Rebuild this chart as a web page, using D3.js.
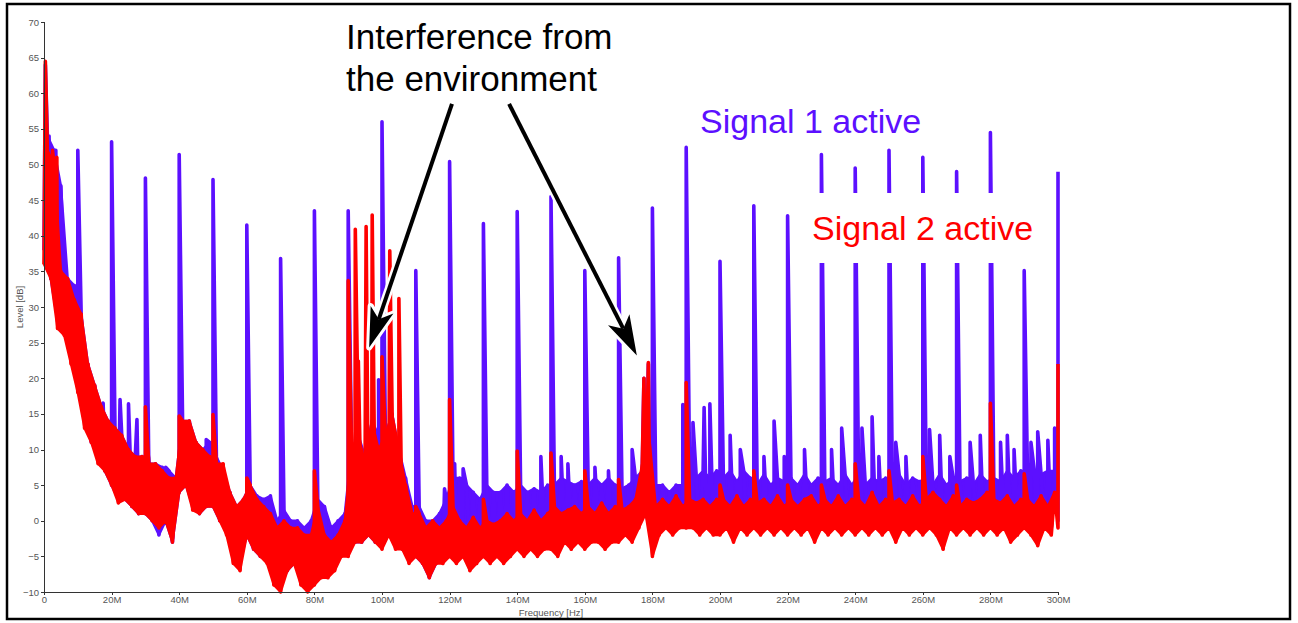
<!DOCTYPE html>
<html>
<head>
<meta charset="utf-8">
<script src="https://cdn.jsdelivr.net/npm/d3@7"></script>
<style>
body { margin: 0; background: #fff; }
svg { display: block; font-family: "Liberation Sans", Arial, Helvetica, sans-serif; }
.axis path, .axis line { stroke: #333; shape-rendering: crispEdges; }
.axis text { fill: #555; font-size: 9.5px; font-family: "Liberation Sans", Arial, sans-serif; }
</style>
</head>
<body>
<div id="chart"></div>
<script>
// tick labels
var xTicks = [0, 20, 40, 60, 80, 100, 120, 140, 160, 180, 200, 220, 240, 260, 280, 300]; // MHz
var yTicks = [-10, -5, 0, 5, 10, 15, 20, 25, 30, 35, 40, 45, 50, 55, 60, 65, 70];

// noise floor, one bin every 2 MHz: "lo" sits on the bin, "hi" 1 MHz after it
var binStep = 2;

// Signal 2 (red)
var redLo = [
    36, 34, 27, 26, 22, 18, 13, 11, 8, 7,
    5, 2.5, 3, 2, 1, 1, 0, -1, 0, -3,
    4, 5, 1.5, 1, 2, 2, 0, -2, -6, -7,
    -2, -4, -5, -6, -9, -10, -7, -6, -9, -10,
    -9, -8, -8, -7, -5, -5, -3, -3, -2, -3,
    -4, -2, -4, -4, -6, -5, -6, -8, -6, -6,
    -5, -6, -5, -7, -6, -5, -6, -5, -6, -5,
    -4, -5, -4, -5, -4, -4, -5, -3, -4, -3,
    -4, -3, -3, -4, -3, -3, -2, -3, -1, 1,
    -5, -2, -1, -2, -1, -1, -1, -2, -1, -2,
    -2, -1, -3, -1, -2, -1, -2, -1, -2, -1,
    -2, -1, -2, -1, -3, -1, -2, -1, -2, -1,
    -2, -1, -2, -1, -2, -1, -3, -1, -2, -1,
    -2, -1, -2, -4, -1, -2, -1, -2, -1, -2,
    -1, -2, -1, -3, -2, -1, -2, -3.5, -1, -2,
    -1];
var redHi = [
    52, 50, 35, 34, 31, 29, 22, 19, 16, 14,
    13, 12, 10, 9, 9, 8, 8, 7, 6, 6,
    14, 14, 11, 10, 9, 8, 8, 4, 2, 3,
    5, 3, 2, 1, -1, 0, -1, -1, -2, -2,
    2, -2, -3, -2, 0, 10, 12, 8, 14, 10,
    12, 15, 10, 5, 1, 1, -1, 0, -1, 0,
    2, 0, -1, 0.5, -1, 0, -0.5, 0, 1, 0,
    1, 0, 1.5, 0, 1, 2, 1, 1.5, 2, 1,
    2, 1, 2.5, 1, 2, 1.5, 2, 3, 8, 12,
    2, 3, 2, 3.5, 2, 3, 2.5, 3, 2, 3,
    3, 2, 3.5, 2, 3, 2.5, 3, 2, 3.5, 2,
    3, 2, 3, 3.5, 2, 3, 2, 3.5, 2, 3,
    3, 2, 4, 2, 3, 2.5, 3, 2, 3.5, 2,
    3, 4, 3, 2, 3.5, 2, 3, 2.5, 3, 4,
    3, 2.5, 3.5, 2, 3, 3, 2, 3.5, 2, 4];
var redSpikes = [ // [MHz, dB]
    [0.4, 64.5], [2.5, 52], [3.8, 51], [30, 16], [40, 14.7], [50, 14.9], [60, 6], [80, 7],
    [90, 33.7], [92.1, 40.9], [93, 22.4], [95.3, 41.3], [97.1, 42.9], [100, 23], [102.3, 37.9], [105, 31.2],
    [110, 2], [120, 17], [130, 3], [140, 9.8], [150, 9.5], [160, 7], [170, 5.8], [177.5, 20], [178.8, 22.2],
    [190, 19.4], [200, 5], [210, 7], [220, 5], [230, 5], [240, 8], [250, 7], [260, 9], [270, 5],
    [280, 16.5], [290, 6.6], [300, 22]];

// Signal 1 (blue)
var blueLo = [
    38, 34, 28, 27, 24, 19, 14, 11, 9, 7,
    5, 3, 3, 2, 1, 1, 0, -2, 0, -3,
    4, 5, 2, 1, 2, 2, 0, -1, -5, -6,
    -2, -4, -5, -5, -8, -9, -7, -6, -8, -9,
    -8, -7, -7, -6, -4, -4, -3, -3, -2, -3,
    -3, -2, -3, -4, -5, -5, -6, -8, -6, -5,
    -4, -4, -4, -4, -4, -3, -4, -3, -3, -3,
    -3, -3, -2, -2, -2, -2, -2, -2, -2, -2,
    -2, -2, -1, -2, -1, -1, -1, -1, 0, 1,
    -3, -1, 0, -1, 0, 0, 0, -1, 0, -1,
    -1, 0, -1, 0, -1, 0, -1, 0, -1, 0,
    -1, 0, -1, 0, -1, 0, -1, 0, -1, 0,
    -1, 0, -1, 0, -1, 0, -1, 0, -1, 0,
    -1, 0, -1, -2, 0, -1, 0, -1, 0, -1,
    0, -1, 0, -1, 0, 0, -1, -2, 0, -1,
    0];
var blueHi = [
    54, 52, 47, 34, 33, 29, 22, 19, 16, 14,
    13, 12, 10, 9, 9, 8, 8, 7.5, 7, 6,
    14, 14, 11, 10, 11, 9, 7, 4, 2, 3,
    5, 3.5, 3, 3.5, 0, 1.5, 0, 0, -1, 0,
    3, 2, -1, 0, 1, 10, 12, 9, 14, 12,
    12, 15, 10, 6, 2, 2, 0, 0, 1, 3,
    6, 6, 5, 4, 3, 5, 4, 4, 5, 4,
    5, 4, 4.5, 4, 5, 5, 6, 5.5, 5, 5.5,
    5, 6, 5, 6, 5, 4.5, 5, 6, 7, 10,
    5, 5, 4, 5, 5, 7, 6, 7, 6, 7,
    6, 7, 5.5, 7, 6, 5, 6.5, 5, 6, 5.5,
    6, 5, 6.5, 5, 6, 5.5, 6, 5, 6.5, 5,
    6.5, 5, 6, 5.5, 6, 5, 6.5, 5, 6, 5.5,
    6, 5, 6.5, 5, 6, 5.5, 6, 5, 6.5, 5.5,
    6, 5.5, 7, 6, 7, 6, 7, 6.5, 7, 7];
var blueSpikes = [ // [MHz, dB]
    [0.4, 64], [1.5, 54], [3.5, 52], [10, 52], [15.5, 16.5], [17.5, 16.5], [20, 53.2], [22.5, 17],
    [25, 16.4], [27.5, 14.2], [30, 48.1], [31, 9], [36, 7.5], [40, 51.4], [44, 10.4], [48, 11.4],
    [50, 47.9], [60, 41.5], [70, 36.8], [80, 43.5], [90, 43.5], [99, 19.8], [100, 56], [110, 35.1],
    [118.5, 4.5], [120, 50.4], [121.5, 8], [124, 7.3], [130, 41.7], [140, 43.4], [147, 9],
    [150, 45.5], [153, 9], [155, 8], [160, 35.1], [163, 7.5], [167, 7], [170, 36.9], [174, 10],
    [177.5, 20], [178.8, 22], [180, 43.9], [189, 16.3], [190, 52.4], [192, 13.8], [195.3, 15.9],
    [197, 16.4], [200, 36.4], [203, 12], [206, 10], [210, 44.2], [213, 9], [216, 14], [219, 9],
    [220, 42.8], [225, 10], [230, 51.4], [233, 10], [236, 13], [240, 49.5], [242, 13], [245, 14.6],
    [247, 9], [250, 52], [252, 11], [255, 9], [260, 51], [262, 12.8], [265, 12], [268, 9],
    [270, 49], [274, 11], [277, 12], [280, 54.5], [283, 11], [285, 12], [287, 10], [290, 35.1],
    [292, 11], [294, 12.5], [297, 11.3], [299, 13], [300, 49]];

// annotation arrows, tail -> tip in data units [MHz, dB]
var arrows = [
    [[120.7, 58.5], [96.2, 24.3]],
    [[137.6, 58.5], [175.4, 23.2]]];

var blue = "#5c10ff", red = "#ff0000";

// 1. svg + frame
var W = 1298, H = 623;
var svg = d3.select("#chart").append("svg")
    .attr("width", W)
    .attr("height", H);

svg.append("rect")
    .attr("x", 7).attr("y", 4)
    .attr("width", 1283).attr("height", 615)
    .attr("fill", "#fff")
    .attr("stroke", "#000")
    .attr("stroke-width", 2.5);

// 2. scales
var x = d3.scaleLinear().domain([0, 300]).range([44, 1058]);
var y = d3.scaleLinear().domain([-10, 70]).range([592, 22]);

// 3. noise band (lo..hi) and trace with the spikes
function buildBins(lo, hi) {
    return hi.map(function (h, i) { return { f: i * binStep, lo: lo[i], hi: h }; });
}

function buildTrace(lo, hi, spikes) {
    var pts = [];
    lo.forEach(function (v, i) {
        pts.push({ f: i * binStep, v: v, k: 0 });
        if (hi[i] != null) pts.push({ f: i * binStep + binStep / 2, v: hi[i], k: 0 });
    });
    spikes.forEach(function (s) { pts.push({ f: s[0], v: s[1], k: 1 }); });
    pts.sort(function (a, b) { return a.f - b.f || a.k - b.k; });
    return pts;
}

var band = d3.area()
    .x0(function (d) { return x(d.f); })
    .y0(function (d) { return y(d.lo); })
    .x1(function (d) { return x(d.f + binStep / 2); })
    .y1(function (d) { return y(d.hi); });

var line = d3.line()
    .x(function (d) { return x(d.f); })
    .y(function (d) { return y(d.v); });

function drawSeries(lo, hi, spikes, color) {
    svg.append("path")
        .datum(buildBins(lo, hi))
        .attr("d", band)
        .attr("fill", color)
        .attr("stroke", color)
        .attr("stroke-width", 2.5)
        .attr("stroke-linejoin", "round");

    svg.append("path")
        .datum(buildTrace(lo, hi, spikes))
        .attr("d", line)
        .attr("fill", "none")
        .attr("stroke", color)
        .attr("stroke-width", 3.6)
        .attr("stroke-linejoin", "round");
}

drawSeries(blueLo, blueHi, blueSpikes, blue);
drawSeries(redLo, redHi, redSpikes, red);

// 4. axes
svg.append("g")
    .attr("class", "axis")
    .attr("transform", "translate(0," + y(-10) + ")")
    .call(d3.axisBottom(x).tickValues(xTicks).tickSize(3).tickSizeOuter(3).tickPadding(1)
        .tickFormat(function (d) { return d === 0 ? "0" : d + "M"; }));

svg.append("g")
    .attr("class", "axis")
    .attr("transform", "translate(" + x(0) + ",0)")
    .call(d3.axisLeft(y).tickValues(yTicks).tickSize(3).tickSizeOuter(3).tickPadding(2));

svg.selectAll(".axis .tick text").attr("fill", "#555");

svg.append("text")
    .attr("x", 551).attr("y", 616)
    .attr("text-anchor", "middle")
    .attr("font-size", 9.5)
    .attr("fill", "#555")
    .text("Frequency [Hz]");

svg.append("text")
    .attr("transform", "translate(23," + ((y(70) + y(-10)) / 2) + ") rotate(-90)")
    .attr("text-anchor", "middle")
    .attr("font-size", 9.5)
    .attr("fill", "#555")
    .text("Level [dB]");

// 5. labels with white backing
svg.append("rect")
    .attr("x", 806).attr("y", 193)
    .attr("width", 240).attr("height", 70)
    .attr("fill", "#fff");

svg.append("text")
    .attr("x", 700).attr("y", 133)
    .attr("font-size", 34)
    .attr("fill", blue)
    .text("Signal 1 active");

svg.append("text")
    .attr("x", 812).attr("y", 240)
    .attr("font-size", 34)
    .attr("fill", red)
    .text("Signal 2 active");

svg.append("text")
    .attr("x", 346).attr("y", 49)
    .attr("font-size", 35)
    .attr("fill", "#000")
    .text("Interference from");

svg.append("text")
    .attr("x", 346).attr("y", 91)
    .attr("font-size", 35)
    .attr("fill", "#000")
    .text("the environment");

// 6. arrows
arrows.forEach(function (a) {
    var x0 = x(a[0][0]), y0 = y(a[0][1]), x1 = x(a[1][0]), y1 = y(a[1][1]);
    var ang = Math.atan2(y1 - y0, x1 - x0);
    var len = 40, half = 12, notch = 30;
    function pt(back, side) {
        return [x1 - back * Math.cos(ang) - side * Math.sin(ang),
                y1 - back * Math.sin(ang) + side * Math.cos(ang)];
    }
    var head = [pt(0, 0), pt(len, half), pt(notch, 0), pt(len, -half)];
    var shaft = [[x0, y0], pt(notch, 0)];

    svg.append("path")
        .attr("d", d3.line()(shaft))
        .attr("stroke", "#fff").attr("stroke-width", 9).attr("fill", "none");
    svg.append("path")
        .attr("d", d3.line()(head) + "Z")
        .attr("fill", "#fff").attr("stroke", "#fff").attr("stroke-width", 6)
        .attr("stroke-linejoin", "round");
    svg.append("path")
        .attr("d", d3.line()(shaft))
        .attr("stroke", "#000").attr("stroke-width", 4).attr("fill", "none");
    svg.append("path")
        .attr("d", d3.line()(head) + "Z")
        .attr("fill", "#000");
});
</script>
</body>
</html>
